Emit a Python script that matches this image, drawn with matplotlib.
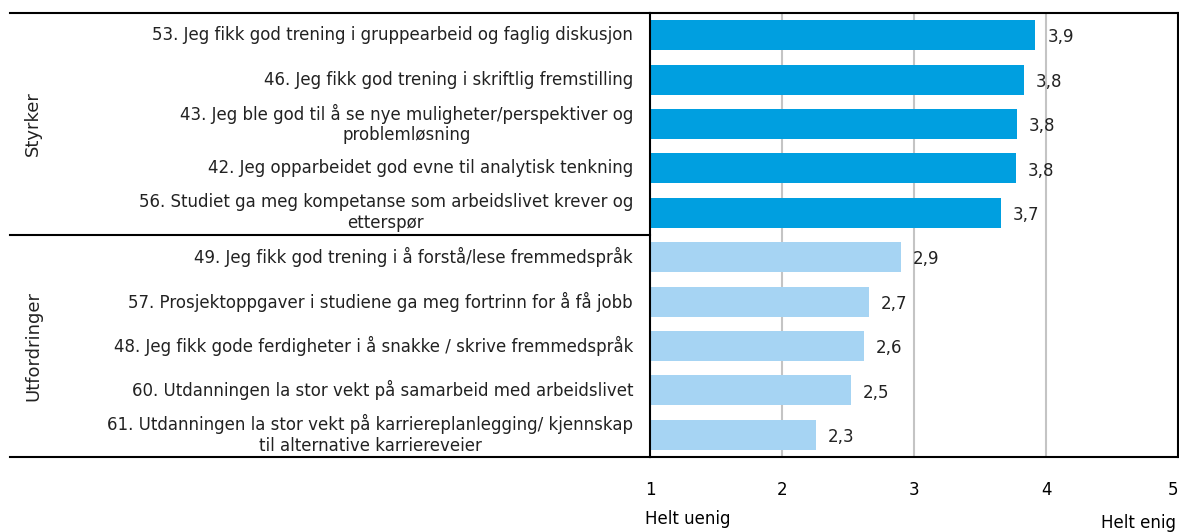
import matplotlib
matplotlib.use("Agg")
import matplotlib.pyplot as plt
import matplotlib.transforms as mtransforms
from matplotlib.lines import Line2D

plt.rcParams['font.family'] = ['DejaVu Sans']

labels = [
    "53. Jeg fikk god trening i gruppearbeid og faglig diskusjon",
    "46. Jeg fikk god trening i skriftlig fremstilling",
    "43. Jeg ble god til å se nye muligheter/perspektiver og\nproblemløsning",
    "42. Jeg opparbeidet god evne til analytisk tenkning",
    "56. Studiet ga meg kompetanse som arbeidslivet krever og\netterspør",
    "49. Jeg fikk god trening i å forstå/lese fremmedspråk",
    "57. Prosjektoppgaver i studiene ga meg fortrinn for å få jobb",
    "48. Jeg fikk gode ferdigheter i å snakke / skrive fremmedspråk",
    "60. Utdanningen la stor vekt på samarbeid med arbeidslivet",
    "61. Utdanningen la stor vekt på karriereplanlegging/ kjennskap\ntil alternative karriereveier",
]
values = [3.92, 3.83, 3.78, 3.77, 3.66, 2.90, 2.66, 2.62, 2.52, 2.26]
groups = ["Styrker"] * 5 + ["Utfordringer"] * 5
group_names = ["Styrker", "Utfordringer"]
group_colors = {"Styrker": "#009fe0", "Utfordringer": "#a6d4f3"}
xticks = [1, 2, 3, 4, 5]

fig = plt.figure(figsize=(11.79, 5.32), dpi=100)
ax = fig.add_axes([650 / 1179, 1 - 457 / 532, 528 / 1179, 444 / 532])

ypos = list(range(len(values)))
colors = [group_colors[g] for g in groups]
ax.barh(ypos, [v - 1 for v in values], left=1, height=0.68, color=colors, zorder=2)

for y, v in zip(ypos, values):
    ax.text(v + 0.09, y + 0.05, f"{v:.1f}".replace(".", ","), va="center", ha="left",
            fontsize=12, color="#222222")

ax.set_xlim(1, 5)
ax.set_ylim(len(values) - 0.5, -0.5)
ax.set_xticks(xticks)
ax.set_xticklabels([str(t) for t in xticks], fontsize=12)
ax.tick_params(axis="x", length=0, pad=17)
ax.get_xticklabels()[-1].set_ha("right")
ax.set_yticks([])
for x in xticks[1:-1]:
    ax.axvline(x, color="#c4c4c4", lw=1.5, zorder=1)
for s in ax.spines.values():
    s.set_color("black")
    s.set_linewidth(1.5)

# category labels
trans_lbl = mtransforms.blended_transform_factory(fig.transFigure, ax.transData)
for y, lab in zip(ypos, labels):
    ax.text(633 / 1179, y, lab, transform=trans_lbl, ha="right", va="center",
            multialignment="center", fontsize=12, color="#222222", linespacing=1.2)

# group labels and separators
n = len(values)
starts = [groups.index(g) for g in group_names]
ends = [n - 1 - groups[::-1].index(g) for g in group_names]
for g, a, b in zip(group_names, starts, ends):
    ax.text(33 / 1179, (a + b) / 2, g, transform=trans_lbl, rotation=90,
            ha="center", va="center", fontsize=13, color="#222222")

for yline in [-0.5, 4.5, n - 0.5]:
    fig.add_artist(Line2D([10 / 1179, 650 / 1179], [yline, yline], transform=trans_lbl,
                          color="black", lw=1.5))

fig.text(645 / 1179, 1 - 519 / 532, "Helt uenig", ha="left", va="center", fontsize=12)
fig.text(1176 / 1179, 1 - 523 / 532, "Helt enig", ha="right", va="center", fontsize=12)

fig.savefig("out.png", dpi=100)
